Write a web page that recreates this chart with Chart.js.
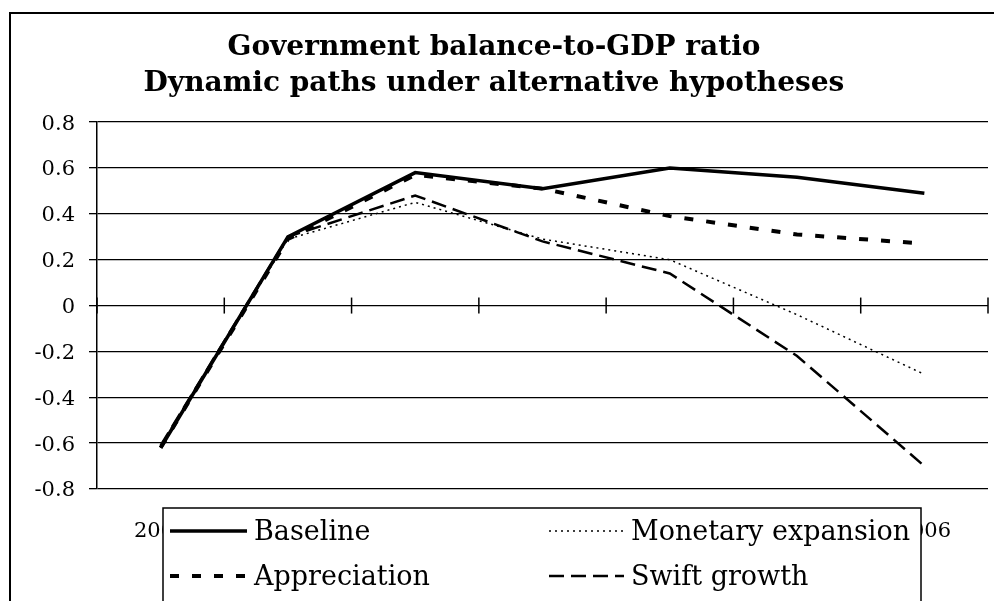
<!DOCTYPE html>
<html>
<head>
<meta charset="utf-8">
<script src="https://cdn.jsdelivr.net/npm/chart.js@4.4.0/dist/chart.umd.min.js"></script>
<style>
  html, body { margin: 0; padding: 0; background: #fff; overflow: hidden; }
  #wrap { position: relative; width: 994px; height: 601px; }
  #frame { position: absolute; left: 9px; top: 12px; width: 1000px; height: 620px;
           border-left: 2px solid #000; border-top: 2px solid #000; pointer-events: none; }
</style>
</head>
<body>
<div id="wrap">
  <canvas id="chart" width="994" height="601"></canvas>
  <div id="frame"></div>
</div>
<script>
const years = ['2000', '2001', '2002', '2003', '2004', '2005', '2006'];
const baseline = [-0.62, 0.30, 0.58, 0.51, 0.60, 0.56, 0.49];
const appreciation = [-0.62, 0.29, 0.57, 0.51, 0.39, 0.31, 0.27];
const monetaryExpansion = [-0.62, 0.29, 0.45, 0.29, 0.20, -0.04, -0.30];
const swiftGrowth = [-0.61, 0.30, 0.48, 0.28, 0.14, -0.22, -0.70];
const yTicks = [-0.8, -0.6, -0.4, -0.2, 0, 0.2, 0.4, 0.6, 0.8];

const FONT = 'DejaVu Serif';

// tick marks sitting on the zero line (category axis crosses at 0)
const zeroTicks = {
    id: 'zeroTicks',
    afterDatasetsDraw(chart) {
        const ctx = chart.ctx, x = chart.scales.x, y = chart.scales.y;
        const y0 = y.getPixelForValue(0);
        ctx.save();
        ctx.strokeStyle = '#000';
        ctx.lineWidth = 1.5;
        for (let i = 0; i <= years.length; i++) {
            const px = x.getPixelForValue(i - 0.5);
            ctx.beginPath();
            ctx.moveTo(px, y0 - 8);
            ctx.lineTo(px, y0 + 8);
            ctx.stroke();
        }
        ctx.restore();
    }
};

// Excel-like boxed legend drawn over the category labels
const boxLegend = {
    id: 'boxLegend',
    afterDraw(chart) {
        const ctx = chart.ctx;
        const left = 163, top = 508, right = 921;
        ctx.save();
        ctx.fillStyle = '#fff';
        ctx.fillRect(left, top, right - left, 120);
        ctx.strokeStyle = '#000';
        ctx.lineWidth = 1.5;
        ctx.strokeRect(left, top, right - left, 120);
        const slots = [
            { x: 170, y: 531, len: 77 }, { x: 170, y: 576, len: 77 },
            { x: 549, y: 531, len: 75 }, { x: 549, y: 576, len: 75 }
        ];
        // order: Baseline, Appreciation, Monetary expansion, Swift growth
        chart.data.datasets.forEach((ds, i) => {
            const s = slots[i];
            ctx.beginPath();
            ctx.setLineDash(ds.borderDash || []);
            ctx.lineWidth = ds.borderWidth;
            ctx.strokeStyle = '#000';
            ctx.moveTo(s.x, s.y);
            ctx.lineTo(s.x + s.len, s.y);
            ctx.stroke();
            ctx.setLineDash([]);
            ctx.fillStyle = '#000';
            ctx.font = '27px "' + FONT + '"';
            ctx.textBaseline = 'middle';
            ctx.fillText(ds.label, s.x + s.len + 7, s.y + 2);
        });
        ctx.restore();
    }
};

const ctx = document.getElementById('chart').getContext('2d');
new Chart(ctx, {
    type: 'line',
    data: {
        labels: years,
        datasets: [
            { label: 'Baseline', data: baseline, borderColor: '#000', borderWidth: 3.5 },
            { label: 'Appreciation', data: appreciation, borderColor: '#000', borderWidth: 4, borderDash: [9, 13] },
            { label: 'Monetary expansion', data: monetaryExpansion, borderColor: '#000', borderWidth: 1.5, borderDash: [2, 4] },
            { label: 'Swift growth', data: swiftGrowth, borderColor: '#000', borderWidth: 2.5, borderDash: [15, 7] }
        ]
    },
    options: {
        responsive: false,
        animation: false,
        layout: { padding: { left: 0, right: 6, top: 0, bottom: 0 } },
        elements: { point: { radius: 0 }, line: { tension: 0, borderCapStyle: 'butt' } },
        plugins: {
            legend: { display: false },
            tooltip: { enabled: false },
            title: {
                display: true,
                text: ['Government balance-to-GDP ratio', 'Dynamic paths under alternative hypotheses'],
                color: '#000',
                font: { family: FONT, size: 28, weight: 'bold', lineHeight: 1.27 },
                padding: { top: 30, bottom: 21 }
            }
        },
        scales: {
            x: {
                offset: true,
                grid: { display: false },
                border: { display: false },
                ticks: { color: '#000', font: { family: FONT, size: 21 }, padding: 22, maxRotation: 0, autoSkip: false },
                afterFit(scale) { scale.height = 112; }
            },
            y: {
                min: -0.8,
                max: 0.8,
                afterBuildTicks(scale) { scale.ticks = yTicks.map(v => ({ value: v })); },
                grid: { color: '#000', lineWidth: 1.3, tickLength: 8, drawTicks: true },
                border: { color: '#000', width: 1.5 },
                ticks: {
                    color: '#000',
                    padding: 14,
                    labelOffset: 2,
                    font: { family: FONT, size: 21 },
                    callback: v => String(Math.round(v * 10) / 10)
                },
                afterFit(scale) { scale.width = 97; }
            }
        }
    },
    plugins: [zeroTicks, boxLegend]
});
</script>
</body>
</html>
